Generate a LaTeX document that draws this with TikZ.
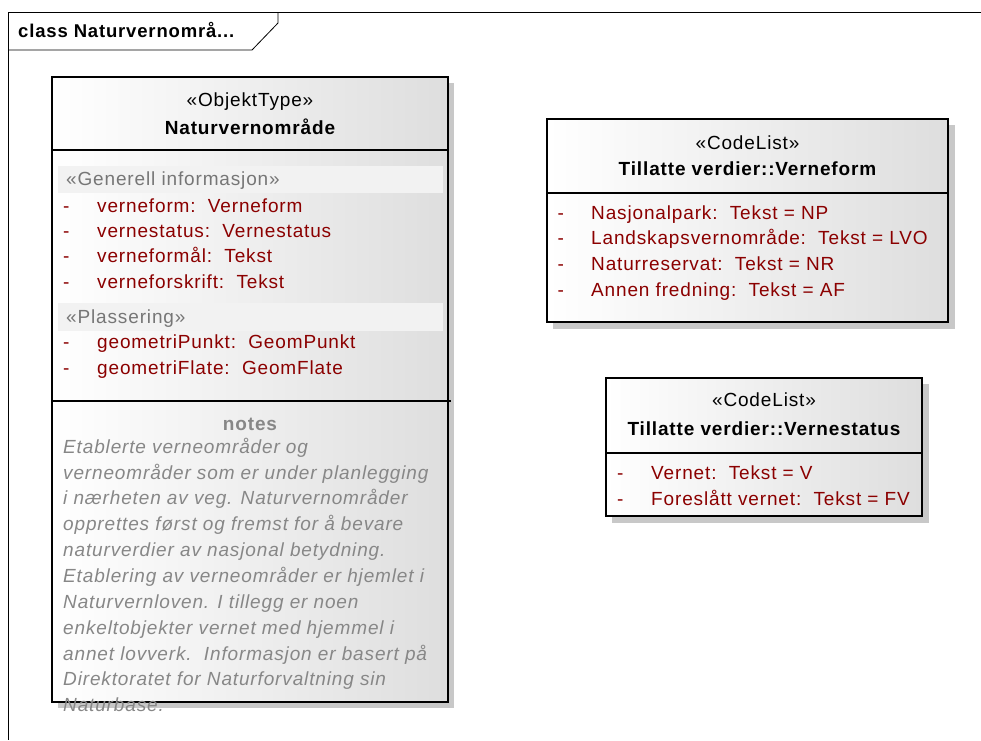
\documentclass[tikz,border=0pt]{standalone}
\usepackage{fontspec}
\setmainfont{Liberation Sans}[LetterSpace=4.5]
\definecolor{attrred}{RGB}{139,0,0}
\definecolor{stereogray}{RGB}{118,118,118}
\definecolor{notegray}{RGB}{135,135,135}
\definecolor{bandgray}{RGB}{242,242,242}
\definecolor{shadowgray}{RGB}{200,200,200}
\tikzset{
  classbox/.style={draw=black, line width=1.6pt, left color=white, middle color=white, right color=black!13},
  boxshadow/.style={fill=shadowgray, draw=none},
  txt/.style={inner sep=0pt, font=\fontsize{19}{23}\selectfont},
  stereo/.style={txt, anchor=base},
  title/.style={txt, anchor=base, font=\fontsize{19}{23}\selectfont\bfseries},
  band/.style={txt, anchor=base west, text=stereogray},
  dashmark/.style={txt, anchor=base west, text=attrred},
  attr/.style={txt, anchor=base west, text=attrred},
  noteline/.style={txt, anchor=base west, text=notegray, font=\fontsize{19}{23}\selectfont\itshape},
}
\begin{document}
\begin{tikzpicture}[x=1pt, y=-1pt]
        \useasboundingbox (0,0) rectangle (981,740);

        \draw[line width=0.8pt] (981,12) -- (8,12) -- (8,740);
        \draw[line width=0.8pt] (8,50) -- (252,50) -- (278,23) -- (278,12);
        \node[txt, anchor=base west, font=\fontsize{18.5}{20}\selectfont\bfseries] (frame) at (18,37.5) {class Naturvernområ...};

        % Naturvernområde
        \fill[boxshadow] (58,83) rectangle (454,708);
        \draw[classbox] (52,77) rectangle (448,702);
        \draw[line width=1.6pt] (52,150) -- (448,150);
        \draw[line width=1.2pt] (52,401) -- (451,401);
        \fill[bandgray] (58,166) rectangle (443,193);
        \fill[bandgray] (58,303) rectangle (443,331);

        \node[stereo] (nvst) at (250,106.7) {«ObjektType»};
        \node[title] (nvname) at (250,134) {Naturvernområde};
        \node[band] (gen) at (66,185) {«Generell informasjon»};
        \foreach \y/\t in {212/{verneform:~~Verneform}, 237.3/{vernestatus:~~Vernestatus},
                           262.7/{verneformål:~~Tekst}, 288/{verneforskrift:~~Tekst}} {
            \node[dashmark] (d\y) at (63,\y) {-};
            \node[attr] (a\y) at (97,\y) {\t};
        }
        \node[band] (plass) at (66,323) {«Plassering»};
        \node[dashmark] (d348) at (63,348) {-};
        \node[attr] (a348) at (97,348) {geometriPunkt:~~GeomPunkt};
        \node[dashmark] (d374) at (63,374) {-};
        \node[attr] (a374) at (97,374) {geometriFlate:~~GeomFlate};

        \node[title, text=notegray] (notes) at (250,430) {notes};
        \foreach \t [count=\i] in {Etablerte verneområder og, verneområder som er under planlegging,
                                   i nærheten av veg. Naturvernområder, opprettes først og fremst for å bevare,
                                   naturverdier av nasjonal betydning., Etablering av verneområder er hjemlet i,
                                   Naturvernloven. I tillegg er noen, enkeltobjekter vernet med hjemmel i,
                                   annet lovverk.~~Informasjon er basert på, Direktoratet for Naturforvaltning sin,
                                   Naturbase.} {
            \node[noteline] (note\i) at (63,453.3+25.84*\i-25.84) {\t};
        }

        % Tillatte verdier::Verneform
        \fill[boxshadow] (553,125) rectangle (955,329);
        \draw[classbox] (547,119) rectangle (948,322);
        \draw[line width=1.6pt] (547,193) -- (948,193);
        \node[stereo] (vfst) at (747.5,149.3) {«CodeList»};
        \node[title] (vfname) at (747.5,175.7) {Tillatte verdier::Verneform};
        \foreach \y/\t in {219.3/{Nasjonalpark:~~Tekst = NP}, 244.8/{Landskapsvernområde:~~Tekst = LVO},
                           270.5/{Naturreservat:~~Tekst = NR}, 296.5/{Annen fredning:~~Tekst = AF}} {
            \node[dashmark] (vd\y) at (557.5,\y) {-};
            \node[attr] (va\y) at (591,\y) {\t};
        }

        % Tillatte verdier::Vernestatus
        \fill[boxshadow] (612,384) rectangle (929,523);
        \draw[classbox] (606,378) rectangle (922,516);
        \draw[line width=1.6pt] (606,453) -- (922,453);
        \node[stereo] (vsst) at (764,406.7) {«CodeList»};
        \node[title] (vsname) at (764,435) {Tillatte verdier::Vernestatus};
        \node[dashmark] (sd1) at (617,479.3) {-};
        \node[attr] (sa1) at (651,479.3) {Vernet:~~Tekst = V};
        \node[dashmark] (sd2) at (617,505) {-};
        \node[attr] (sa2) at (651,505) {Foreslått vernet:~~Tekst = FV};
    \end{tikzpicture}
\end{document}
